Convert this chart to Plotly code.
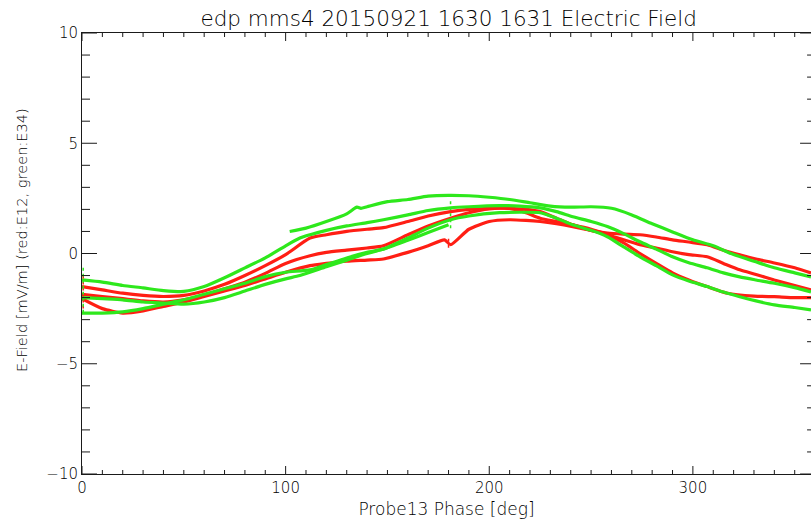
import plotly.graph_objects as go

# ---------------- data ----------------
# Green (E34) passes
g1_phase = [102, 110, 120, 130, 135, 137, 140, 150, 160, 170, 180, 190, 200, 210, 220, 230, 240, 250, 260, 270, 280, 290, 300, 310, 320, 330, 340, 350, 358]
g1_val = [1.0, 1.15, 1.45, 1.8, 2.1, 2.05, 2.12, 2.35, 2.45, 2.6, 2.64, 2.62, 2.55, 2.45, 2.3, 2.15, 2.1, 2.12, 2.05, 1.75, 1.35, 0.98, 0.62, 0.35, -0.05, -0.35, -0.65, -0.88, -1.06]

g2_phase = [0, 10, 20, 30, 40, 50, 60, 70, 80, 90, 100, 107, 112, 120, 130, 140, 148, 160, 170, 181, 190, 205, 215, 225, 233, 241, 250, 258, 266, 274, 282, 290, 298, 307, 315, 323, 331, 340, 350, 358]
g2_val = [-1.2, -1.3, -1.45, -1.56, -1.68, -1.72, -1.5, -1.1, -0.65, -0.2, 0.35, 0.7, 0.85, 1.05, 1.25, 1.4, 1.53, 1.75, 1.95, 2.07, 2.12, 2.17, 2.15, 2.07, 1.9, 1.67, 1.45, 1.22, 0.9, 0.53, 0.2, -0.15, -0.42, -0.65, -0.88, -1.06, -1.2, -1.35, -1.55, -1.74]

g3_phase = [0, 10, 20, 30, 40, 50, 60, 70, 80, 90, 100, 107, 120, 130, 140, 148, 160, 170, 181, 190, 205, 215, 225, 233, 241, 250, 258, 266, 274, 282, 290, 298, 307, 315, 323, 331, 340, 350, 358]
g3_val = [-2.0, -2.05, -2.1, -2.2, -2.25, -2.3, -2.2, -2.0, -1.7, -1.4, -1.15, -1.0, -0.6, -0.3, 0.0, 0.2, 0.7, 1.15, 1.53, 1.7, 1.85, 1.87, 1.85, 1.6, 1.3, 1.05, 0.76, 0.3, -0.15, -0.55, -0.97, -1.25, -1.5, -1.75, -1.96, -2.15, -2.33, -2.45, -2.56]

g4_phase = [0, 10, 20, 30, 40, 50, 60, 70, 80, 90, 100, 112, 120, 130, 140, 148, 160, 170, 180]
g4_val = [-2.7, -2.7, -2.65, -2.5, -2.3, -2.1, -1.85, -1.6, -1.35, -1.05, -0.85, -0.74, -0.5, -0.2, 0.05, 0.2, 0.6, 0.95, 1.3]

# Red (E12) passes
r1_phase = [0, 10, 20, 30, 40, 50, 60, 70, 80, 90, 100, 112, 120, 130, 140, 148, 160, 170, 181, 190, 200, 210, 218, 225, 233, 241, 250, 258, 266, 274, 282, 290, 298, 307, 315, 323, 331, 340, 350, 358]
r1_val = [-1.5, -1.65, -1.8, -1.9, -1.95, -1.9, -1.7, -1.4, -1.0, -0.55, -0.05, 0.7, 0.85, 1.0, 1.1, 1.17, 1.45, 1.7, 1.9, 2.0, 2.05, 2.05, 2.0, 1.9, 1.6, 1.3, 1.05, 0.93, 0.88, 0.85, 0.75, 0.62, 0.52, 0.4, 0.15, -0.06, -0.25, -0.43, -0.65, -0.88]

r2_phase = [0, 10, 20, 30, 40, 50, 60, 70, 80, 90, 100, 112, 120, 130, 140, 148, 160, 170, 181, 190, 200, 210, 218, 225, 233, 241, 250, 258, 266, 274, 282, 290, 298, 307, 317, 330, 340, 350, 358]
r2_val = [-1.85, -1.95, -2.05, -2.15, -2.2, -2.1, -1.9, -1.6, -1.3, -0.9, -0.45, -0.1, 0.05, 0.15, 0.25, 0.35, 0.85, 1.25, 1.6, 1.85, 2.02, 2.05, 1.85, 1.6, 1.45, 1.3, 1.1, 0.85, 0.48, 0.0, -0.45, -0.88, -1.2, -1.5, -1.8, -1.93, -1.96, -2.0, -2.0]

r3_phase = [0, 10, 20, 30, 40, 50, 60, 70, 80, 90, 100, 112, 120, 130, 140, 148, 160, 170, 178, 181, 190, 200, 210, 218, 225, 233, 241, 250, 258, 266, 274, 282, 290, 298, 307, 315, 323, 331, 340, 350, 358]
r3_val = [-2.05, -2.5, -2.7, -2.6, -2.4, -2.2, -1.95, -1.7, -1.45, -1.15, -0.85, -0.55, -0.45, -0.35, -0.3, -0.25, 0.05, 0.35, 0.62, 0.4, 1.1, 1.45, 1.53, 1.5, 1.45, 1.35, 1.22, 1.05, 0.85, 0.62, 0.4, 0.25, 0.08, -0.05, -0.15, -0.45, -0.74, -0.95, -1.2, -1.45, -1.65]

# scattered samples where the phase wraps / jumps
gjump_phase = [0.6, 0.6, None, 181, 181]
gjump_val = [-0.65, -2.75, None, 1.15, 2.4]
rjump_phase = [0.6, 0.6, None, 180, 180]
rjump_val = [-1.0, -2.6, None, 0.26, 0.7]

# axis ticks
x_major = [0, 100, 200, 300]
x_minor = [v for v in range(10, 360, 10) if v % 100]
y_major = [-10, -5, 0, 5, 10]
y_minor = [v for v in range(-9, 10) if v % 5]
X_END = 360  # right frame of the plot box (just beyond the picture's edge)

TITLE = "edp mms4 20150921 1630 1631 Electric Field"
X_TITLE = "Probe13 Phase [deg]"
Y_TITLE = "E-Field [mV/m] (red:E12, green:E34)"

RED = "#ff1e14"
GREEN = "#2ee81c"
FONT = "DejaVu Sans"
TXT = "#000000"
AX = "#1a1a1a"

fig = go.Figure()
for ph, v, c in [
    (r1_phase, r1_val, RED), (r2_phase, r2_val, RED), (r3_phase, r3_val, RED),
    (g1_phase, g1_val, GREEN), (g2_phase, g2_val, GREEN), (g3_phase, g3_val, GREEN), (g4_phase, g4_val, GREEN),
]:
    fig.add_trace(go.Scatter(x=ph, y=v, mode="lines",
                             line=dict(color=c, width=3.2, shape="spline", smoothing=0.6),
                             hoverinfo="skip", showlegend=False))
for ph, v, c in [(rjump_phase, rjump_val, RED), (gjump_phase, gjump_val, GREEN)]:
    fig.add_trace(go.Scatter(x=ph, y=v, mode="lines", line=dict(color=c, width=1.5, dash="dot"),
                             hoverinfo="skip", showlegend=False))

# tick marks (plot height 441 px, width 733 px for 0..360)
PH, PW = 441.0, 733.0
def tick_x(xv, length_px, bottom=True):
    L = length_px / PH
    if bottom:
        return dict(type="line", xref="x", yref="paper", x0=xv, x1=xv, y0=0, y1=L,
                    line=dict(color=AX, width=1))
    return dict(type="line", xref="x", yref="paper", x0=xv, x1=xv, y0=1, y1=1 - L,
                line=dict(color=AX, width=1))

def tick_y(yv, length_px, left=True):
    Ld = length_px / PW * 360.0
    if left:
        return dict(type="line", xref="x", yref="y", x0=0, x1=Ld, y0=yv, y1=yv,
                    line=dict(color=AX, width=1))
    return dict(type="line", xref="x", yref="y", x0=X_END, x1=X_END - Ld, y0=yv, y1=yv,
                line=dict(color=AX, width=1))

shapes = []
for xv in x_major:
    shapes += [tick_x(xv, 8, True), tick_x(xv, 8, False)]
for xv in x_minor:
    shapes += [tick_x(xv, 4, True), tick_x(xv, 4, False)]
for yv in y_major:
    shapes += [tick_y(yv, 15, True), tick_y(yv, 15, False)]
for yv in y_minor:
    shapes += [tick_y(yv, 8, True), tick_y(yv, 8, False)]

fig.update_layout(
    width=811, height=519,
    margin=dict(l=82, r=0, t=33, b=45),
    paper_bgcolor="white", plot_bgcolor="white",
    font=dict(family=FONT, color=TXT, size=15),
    title=dict(text=TITLE, x=0.503, xref="paper", xanchor="center",
               y=1 - 18 / 519, yref="container", yanchor="middle",
               font=dict(size=21.5, family=FONT, color=TXT, weight=200)),
    showlegend=False,
    shapes=shapes,
    annotations=[dict(text=Y_TITLE, textangle=-90, xref="paper", yref="paper",
                      x=(22 - 82) / 729.0, y=(474 - 240) / 441.0,
                      xanchor="center", yanchor="middle", showarrow=False,
                      font=dict(size=14.6, family=FONT, color=TXT, weight=200))],
)
fig.update_xaxes(
    range=[0, 358], tickmode="array", tickvals=x_major, ticktext=[str(t) for t in x_major],
    automargin=False, ticks="",
    showline=True, linecolor=AX, linewidth=1, mirror=True,
    showgrid=False, zeroline=False,
    tickfont=dict(size=15, family=FONT, color=TXT, weight=200),
    title=dict(text=X_TITLE, standoff=9, font=dict(size=17, family=FONT, color=TXT, weight=200)),
)
fig.update_yaxes(
    range=[-10, 10], tickmode="array", tickvals=y_major,
    ticktext=["\u221210", "\u22125", "0", "5", "10"],
    automargin=False, ticks="",
    showline=True, linecolor=AX, linewidth=1, mirror=False,
    showgrid=False, zeroline=False,
    tickfont=dict(size=15, family=FONT, color=TXT, weight=200),
)

fig.write_html(
    "out.html",
    config={"displayModeBar": False, "staticPlot": True},
    post_script="document.body.style.margin='0';document.body.style.overflow='hidden';",
)
